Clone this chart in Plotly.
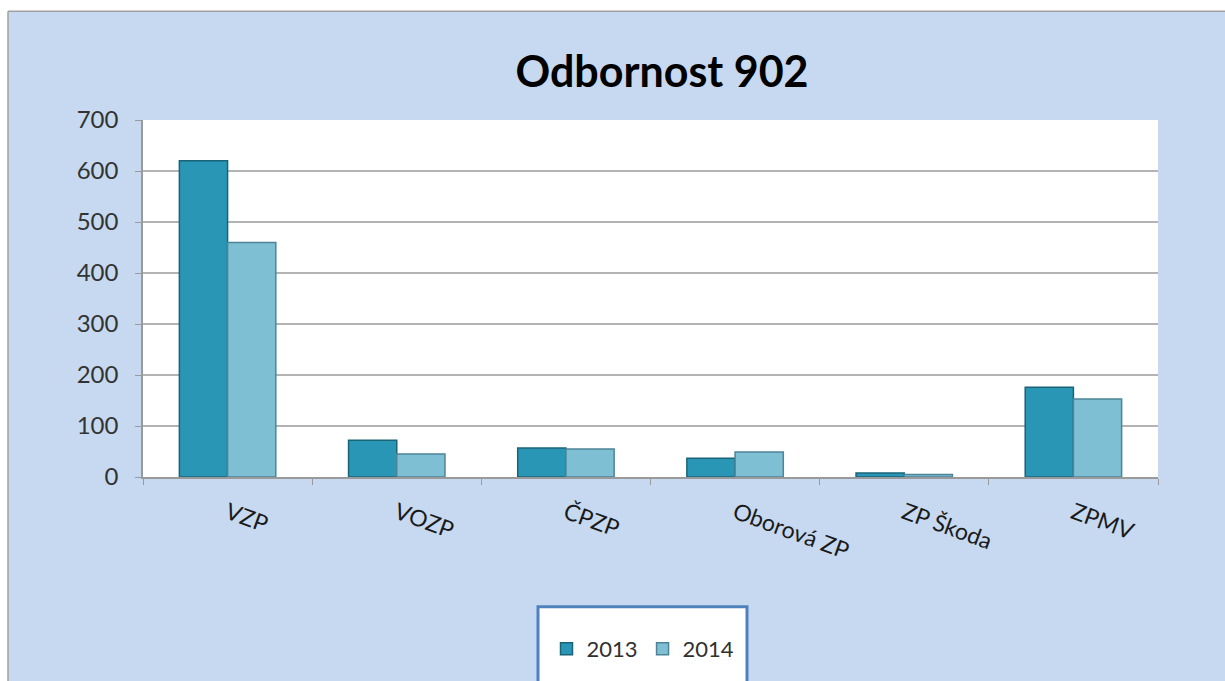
import plotly.graph_objs as go

categories = ['VZP', 'VOZP', 'ČPZP', 'Oborová ZP', 'ZP Škoda', 'ZPMV']
values_2013 = [620, 72, 57, 37, 8, 176]
values_2014 = [460, 45, 55, 49, 5, 153]
y_ticks = [0, 100, 200, 300, 400, 500, 600, 700]

W, H = 1225, 681
L, R, T, B = 143, 67, 120, 203
PW = W - L - R
PH = H - T - B


def px_x(p):
    return (p - L) / PW


def px_y(p):
    return (H - B - p) / PH


bg = '#c6d9f0'
font = 'Lato, Open Sans, sans-serif'

trace_2013 = go.Bar(
    x=categories, y=values_2013, name='2013',
    marker=dict(color='#2896b4', line=dict(color='#1a6478', width=1.5))
)
trace_2014 = go.Bar(
    x=categories, y=values_2014, name='2014',
    marker=dict(color='#7ebfd4', line=dict(color='#4d8497', width=1.5))
)

shapes = [
    # white strips outside the chart frame
    dict(type='rect', xref='paper', yref='paper', layer='below',
         x0=px_x(-5), x1=px_x(8), y0=px_y(-5), y1=px_y(H + 10),
         fillcolor='white', line=dict(width=0)),
    dict(type='rect', xref='paper', yref='paper', layer='below',
         x0=px_x(-5), x1=px_x(W + 10), y0=px_y(-5), y1=px_y(11),
         fillcolor='white', line=dict(width=0)),
    dict(type='line', xref='paper', yref='paper', layer='below',
         x0=px_x(8), x1=px_x(W + 10), y0=px_y(11), y1=px_y(11),
         line=dict(color='#a0a0a0', width=1.5)),
    dict(type='line', xref='paper', yref='paper', layer='below',
         x0=px_x(8), x1=px_x(8), y0=px_y(11), y1=px_y(H + 10),
         line=dict(color='#a0a0a0', width=1.5)),
    # legend box
    dict(type='rect', xref='paper', yref='paper', layer='below',
         x0=px_x(538), x1=px_x(747), y0=px_y(608), y1=px_y(H + 20),
         fillcolor='white', line=dict(color='#4f81bd', width=3)),
]

layout = go.Layout(
    width=W, height=H,
    margin=dict(l=L, r=R, t=T, b=B),
    paper_bgcolor=bg,
    plot_bgcolor='white',
    font=dict(family=font, color='#333333'),
    title=dict(text='<b>Odbornost 902</b>', x=px_x(662), xref='paper',
               xanchor='center', y=1 - 72 / H, yanchor='middle',
               font=dict(size=43, color='black', family=font)),
    barmode='group',
    bargap=0.43,
    bargroupgap=0,
    xaxis=dict(
        tickangle=20, tickson='boundaries', ticks='outside', ticklen=6,
        tickcolor='#9a9a9a', showline=True, linecolor='#9a9a9a',
        linewidth=1.5, tickfont=dict(size=23, color='#1a1a1a'),
        ticklabelstandoff=12, showgrid=False
    ),
    yaxis=dict(
        range=[0, 700], tickvals=y_ticks, ticks='outside', ticklen=6,
        tickcolor='#9a9a9a', showline=True, linecolor='#9a9a9a',
        linewidth=1.5, gridcolor='#b3b3b3', gridwidth=1.5,
        tickfont=dict(size=24, color='#333333'),
        ticklabelstandoff=12, zeroline=False
    ),
    legend=dict(
        orientation='h', x=px_x(643), xanchor='center', y=px_y(649),
        yanchor='middle', bgcolor='rgba(0,0,0,0)',
        font=dict(size=22, color='#303030'), itemwidth=30
    ),
    shapes=shapes,
)

fig = go.Figure(data=[trace_2013, trace_2014], layout=layout)
fig.write_html('out.html', config=dict(displayModeBar=False),
               post_script="document.body.style.margin='0';")
